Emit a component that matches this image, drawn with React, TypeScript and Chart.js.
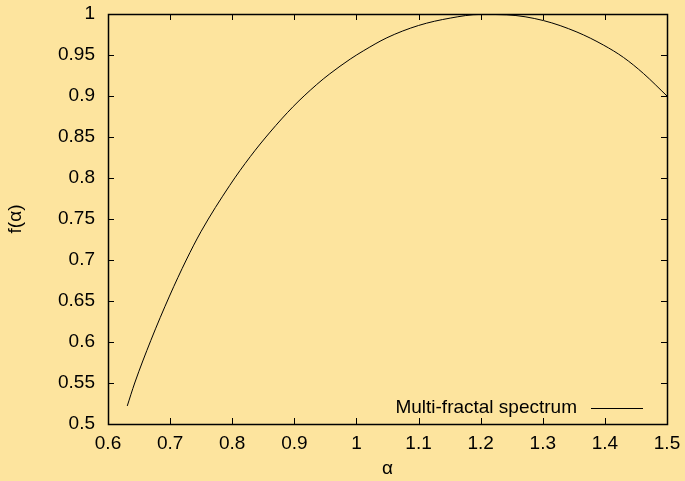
import React, { useEffect, useRef } from "react";
import { Chart, registerables } from "chart.js";

Chart.register(...registerables);

// Data
const alpha = [
  0.631, 0.643, 0.669, 0.699, 0.726, 0.75, 0.796, 0.829, 0.861, 0.898, 0.936,
  0.957, 0.99, 1.011, 1.049, 1.1, 1.151, 1.2, 1.242, 1.301, 1.355, 1.398, 1.43,
  1.462, 1.5,
];
const fAlpha = [
  0.522, 0.55, 0.602, 0.656, 0.7, 0.735, 0.791, 0.826, 0.856, 0.887, 0.914,
  0.927, 0.945, 0.955, 0.971, 0.986, 0.995, 0.9995, 0.999, 0.992, 0.978, 0.962,
  0.947, 0.9275, 0.9,
];
const xRange = [0.6, 1.5];
const yRange = [0.5, 1.0];
const xStep = 0.1;
const yStep = 0.05;
const seriesLabel = "Multi-fractal spectrum";
const xTitle = "α";
const yTitle = "f(α)";

const BG = "#FDE49E";
const FONT = "'Liberation Sans', Arial, Helvetica, sans-serif";
const FONT_SIZE = 19;

const fmt = (v: number) => String(Number(Number(v).toFixed(2)));

const framePlugin = {
  id: "gnuframe",
  beforeDraw(chart: any) {
    const { ctx, width, height } = chart;
    ctx.save();
    ctx.fillStyle = BG;
    ctx.fillRect(0, 0, width, height);
    ctx.restore();
  },
  afterDatasetsDraw(chart: any) {
    const { ctx, chartArea, scales } = chart;
    const { left, right, top, bottom } = chartArea;
    const xs = scales.x;
    const ys = scales.y;
    const tl = 6;
    ctx.save();
    ctx.strokeStyle = "#000";
    ctx.lineWidth = 1;
    ctx.beginPath();
    xs.ticks.forEach((t: any) => {
      const px = Math.round(xs.getPixelForValue(t.value)) + 0.5;
      ctx.moveTo(px, bottom);
      ctx.lineTo(px, bottom - tl);
      ctx.moveTo(px, top);
      ctx.lineTo(px, top + tl);
    });
    ys.ticks.forEach((t: any) => {
      const py = Math.round(ys.getPixelForValue(t.value)) + 0.5;
      ctx.moveTo(left, py);
      ctx.lineTo(left + tl, py);
      ctx.moveTo(right, py);
      ctx.lineTo(right - tl, py);
    });
    ctx.stroke();
    ctx.lineWidth = 1.5;
    ctx.strokeRect(left + 0.5, top + 0.5, right - left, bottom - top);

    // key (legend) in gnuplot style: text then line sample
    const ky = bottom - 16;
    ctx.font = `${FONT_SIZE}px ${FONT}`;
    ctx.fillStyle = "#000";
    ctx.textAlign = "right";
    ctx.textBaseline = "middle";
    ctx.fillText(seriesLabel, right - 90, ky);
    ctx.lineWidth = 1;
    ctx.beginPath();
    ctx.moveTo(right - 76, ky + 0.5);
    ctx.lineTo(right - 24, ky + 0.5);
    ctx.stroke();
    ctx.restore();
  },
};

export default function App() {
  const ref = useRef<HTMLCanvasElement | null>(null);

  useEffect(() => {
    document.body.style.margin = "0";
    document.body.style.background = BG;
    const canvas = ref.current;
    if (!canvas) return;
    const chart = new Chart(canvas, {
      type: "line",
      data: {
        datasets: [
          {
            label: seriesLabel,
            data: alpha.map((a, i) => ({ x: a, y: fAlpha[i] })),
            borderColor: "#000",
            borderWidth: 1,
            pointRadius: 0,
            fill: false,
            cubicInterpolationMode: "monotone",
          },
        ],
      },
      options: {
        responsive: false,
        animation: false,
        devicePixelRatio: 1,
        layout: { padding: { left: 0, top: 14, right: 18, bottom: 0 } },
        plugins: {
          legend: { display: false },
          tooltip: { enabled: false },
        },
        scales: {
          x: {
            type: "linear",
            min: xRange[0],
            max: xRange[1],
            grid: { display: false, drawTicks: false },
            border: { display: false },
            ticks: {
              stepSize: xStep,
              padding: 8,
              color: "#000",
              font: { family: FONT, size: FONT_SIZE },
              maxRotation: 0,
              callback: (v: any) => fmt(v),
            },
            title: {
              display: true,
              text: xTitle,
              color: "#000",
              font: { family: FONT, size: FONT_SIZE },
              padding: { top: 0, bottom: 1 },
            },
            afterFit: (s: any) => {
              s.height = 57;
              s.paddingLeft = 0;
              s.paddingRight = 0;
            },
          },
          y: {
            type: "linear",
            min: yRange[0],
            max: yRange[1],
            grid: { display: false, drawTicks: false },
            border: { display: false },
            ticks: {
              stepSize: yStep,
              padding: 13,
              color: "#000",
              font: { family: FONT, size: FONT_SIZE },
              callback: (v: any) => fmt(v),
            },
            title: {
              display: true,
              text: yTitle,
              color: "#000",
              font: { family: FONT, size: FONT_SIZE },
              padding: { top: 4, bottom: 0 },
            },
            afterFit: (s: any) => {
              s.width = 108;
              s.paddingTop = 0;
              s.paddingBottom = 0;
            },
          },
        },
      },
      plugins: [framePlugin],
    } as any);
    return () => chart.destroy();
  }, []);

  return (
    <div style={{ position: "absolute", left: 0, top: 0, width: 685, height: 481 }}>
      <canvas ref={ref} width={685} height={481} style={{ display: "block" }} />
    </div>
  );
}
